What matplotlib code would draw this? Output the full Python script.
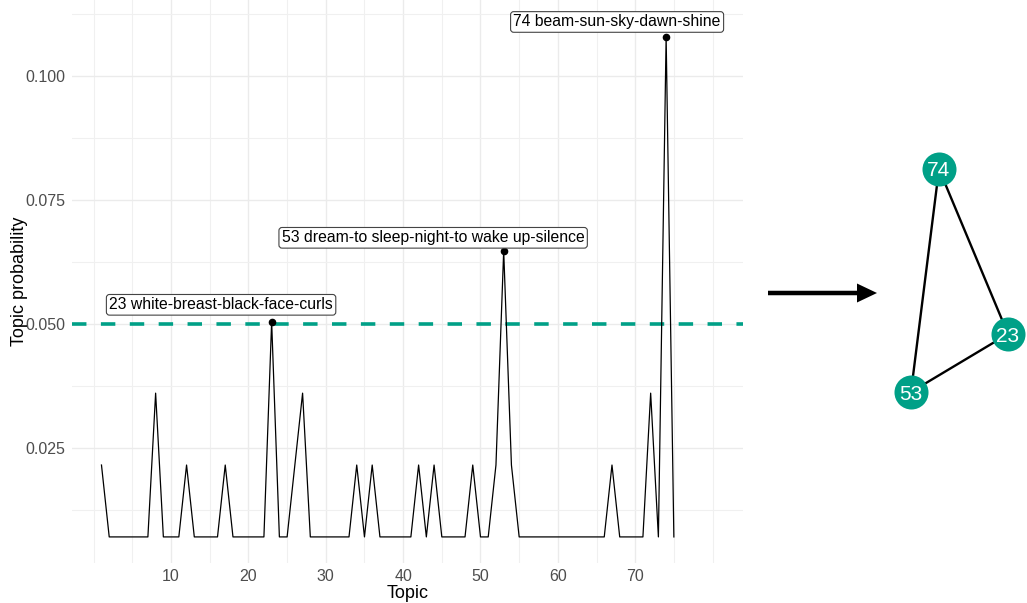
import matplotlib
matplotlib.use("Agg")
import matplotlib.pyplot as plt
from matplotlib.patches import FancyArrow

plt.rcParams["font.family"] = ["Liberation Sans", "DejaVu Sans"]

# topic probabilities, topics 1..75
topics = list(range(1, 76))
probs = [
    0.0216, 0.0071, 0.0071, 0.0071, 0.0071, 0.0071, 0.0071, 0.0361, 0.0071, 0.0071,
    0.0071, 0.0216, 0.0071, 0.0071, 0.0071, 0.0071, 0.0216, 0.0071, 0.0071, 0.0071,
    0.0071, 0.0071, 0.0505, 0.0071, 0.0071, 0.0216, 0.0361, 0.0071, 0.0071, 0.0071,
    0.0071, 0.0071, 0.0071, 0.0216, 0.0071, 0.0216, 0.0071, 0.0071, 0.0071, 0.0071,
    0.0071, 0.0216, 0.0071, 0.0216, 0.0071, 0.0071, 0.0071, 0.0071, 0.0216, 0.0071,
    0.0071, 0.0216, 0.0648, 0.0216, 0.0071, 0.0071, 0.0071, 0.0071, 0.0071, 0.0071,
    0.0071, 0.0071, 0.0071, 0.0071, 0.0071, 0.0071, 0.0216, 0.0071, 0.0071, 0.0071,
    0.0071, 0.0361, 0.0071, 0.1080, 0.0071,
]
threshold = 0.05

peak_topics = [23, 53, 74]
peak_labels = [
    "23 white-breast-black-face-curls",
    "53 dream-to sleep-night-to wake up-silence",
    "74 beam-sun-sky-dawn-shine",
]
# label offsets from the point (points)
label_offsets = [(-36.4, 12.2), (-50.8, 9.4), (-35.3, 10.6)]

x_ticks = [10, 20, 30, 40, 50, 60, 70]
y_ticks = [0.025, 0.050, 0.075, 0.100]
y_ticklabels = ["0.025", "0.050", "0.075", "0.100"]

# network of topics above the threshold
nodes = ["74", "23", "53"]
edges = [("74", "23"), ("74", "53"), ("53", "23")]
node_layout = {"74": (939, 169), "23": (1008, 334), "53": (911, 392)}

teal = "#00A087"
W, H = 1027, 603

fig = plt.figure(figsize=(W / 100, H / 100), dpi=100)
ax = fig.add_axes([71.7 / W, (H - 562.7) / H, (742.7 - 71.7) / W, 562.7 / H])

ax.set_xlim(-2.85, 83.9)
ax.set_ylim(0.0019, 0.1154)

ax.set_xticks(x_ticks)
ax.set_xticks([t for t in range(0, 85, 5) if t not in x_ticks], minor=True)
ax.set_yticks(y_ticks, y_ticklabels)
ax.set_yticks([0.0125, 0.0375, 0.0625, 0.0875, 0.1125], minor=True)
ax.grid(which="major", color="#EBEBEB", lw=1.0)
ax.grid(which="minor", color="#F0F0F0", lw=0.8)
ax.set_axisbelow(True)
for s in ax.spines.values():
    s.set_visible(False)
ax.tick_params(which="both", length=0, labelsize=11.5, labelcolor="#4D4D4D", pad=4.5)

ax.axhline(threshold, color=teal, lw=2.6, dashes=(4, 4), zorder=2)
ax.plot(topics, probs, color="black", lw=0.9, zorder=3)

peak_vals = [probs[topics.index(t)] for t in peak_topics]
ax.scatter(peak_topics, peak_vals, s=20, color="black", zorder=4)
for t, v, lab, off in zip(peak_topics, peak_vals, peak_labels, label_offsets):
    ax.annotate(lab, xy=(t, v), xytext=off, textcoords="offset points",
                ha="center", va="center", fontsize=11.3, zorder=5,
                bbox=dict(boxstyle="round,pad=0.18,rounding_size=0.2",
                          fc="white", ec="#444444", lw=0.8))

ax.set_xlabel("Topic", fontsize=13, labelpad=1)
ax.set_ylabel("Topic probability", fontsize=13, labelpad=-2)

# right-hand side: arrow and network
ov = fig.add_axes([0, 0, 1, 1])
ov.set_xlim(0, W)
ov.set_ylim(H, 0)
ov.axis("off")

ov.add_patch(FancyArrow(768, 293, 109, 0, width=4.5, head_width=19, head_length=20,
                        length_includes_head=True, color="black", lw=0))

for a, b in edges:
    xa, ya = node_layout[a]
    xb, yb = node_layout[b]
    ov.plot([xa, xb], [ya, yb], color="black", lw=1.7, zorder=2)
for n in nodes:
    x, y = node_layout[n]
    ov.scatter([x], [y], s=600, color=teal, zorder=3, linewidths=0)
    ov.text(x, y, n, color="white", fontsize=15, ha="center", va="center_baseline", zorder=4)

fig.savefig("out.png", dpi=100)
